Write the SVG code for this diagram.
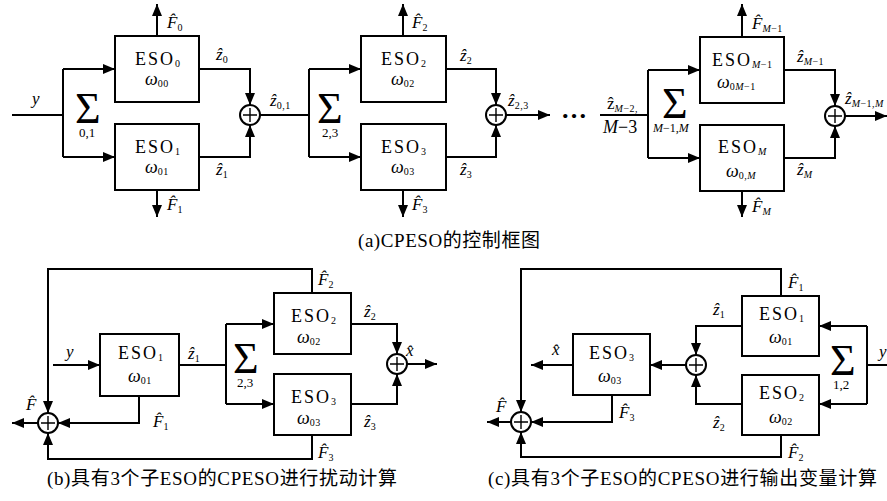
<svg xmlns="http://www.w3.org/2000/svg" width="887" height="501" viewBox="0 0 887 501">
<style>
.box{fill:#fff;stroke:#000;stroke-width:2}
.ln{fill:none;stroke:#000;stroke-width:2}
.sj{fill:#fff;stroke:#000;stroke-width:2}
.pl{fill:none;stroke:#000;stroke-width:1.4}
.t{font-family:"Liberation Serif","Times New Roman",serif;fill:#000}
.v{font-style:italic;font-size:17px}
.n{font-style:normal}
.s{font-size:10px;letter-spacing:0.5px}
.eso{font-size:18px;letter-spacing:2px}
.om{font-size:18px}
.sig{font-size:44px}
.sl{font-size:13px}
.cap{font-family:"Liberation Serif","Noto Sans CJK SC",sans-serif;font-size:19px;fill:#000}
</style>
<defs>
<marker id="a" viewBox="0 0 12 10" refX="12" refY="5" markerWidth="12" markerHeight="10" markerUnits="userSpaceOnUse" orient="auto"><path d="M0,0 L12,5 L0,10 z" fill="#000"/></marker>
</defs>

<g id="connectors">
<path class="ln" d="M12,115 H63 M63,69 V157"/>
<path class="ln" d="M63,69 H115" marker-end="url(#a)"/>
<path class="ln" d="M63,157 H115" marker-end="url(#a)"/>
<path class="ln" d="M199,69 H250 V105" marker-end="url(#a)"/>
<path class="ln" d="M199,157 H250 V125" marker-end="url(#a)"/>
<path class="ln" d="M157,36 V4" marker-end="url(#a)"/>
<path class="ln" d="M157,190 V217" marker-end="url(#a)"/>
<path class="ln" d="M260,115 H309 M309,69 V157"/>
<path class="ln" d="M309,69 H361" marker-end="url(#a)"/>
<path class="ln" d="M309,157 H361" marker-end="url(#a)"/>
<path class="ln" d="M446,69 H496 V105" marker-end="url(#a)"/>
<path class="ln" d="M446,157 H496 V125" marker-end="url(#a)"/>
<path class="ln" d="M403,36 V4" marker-end="url(#a)"/>
<path class="ln" d="M403,190 V217" marker-end="url(#a)"/>
<path class="ln" d="M506,115 H550" marker-end="url(#a)"/>
<path class="ln" d="M600,115 H648 M648,70 V158"/>
<path class="ln" d="M648,70 H700" marker-end="url(#a)"/>
<path class="ln" d="M648,158 H700" marker-end="url(#a)"/>
<path class="ln" d="M784,70 H835 V106" marker-end="url(#a)"/>
<path class="ln" d="M784,158 H835 V126" marker-end="url(#a)"/>
<path class="ln" d="M742,37 V4" marker-end="url(#a)"/>
<path class="ln" d="M742,191 V217" marker-end="url(#a)"/>
<path class="ln" d="M845,116 H887" marker-end="url(#a)"/>

<path class="ln" d="M53,365 H100" marker-end="url(#a)"/>
<path class="ln" d="M179,365 H226 M226,324 V404"/>
<path class="ln" d="M226,324 H274" marker-end="url(#a)"/>
<path class="ln" d="M226,404 H274" marker-end="url(#a)"/>
<path class="ln" d="M351,324 H397 V354" marker-end="url(#a)"/>
<path class="ln" d="M351,404 H397 V374" marker-end="url(#a)"/>
<path class="ln" d="M407,364 H437" marker-end="url(#a)"/>
<path class="ln" d="M312,293 V269 H48 V413" marker-end="url(#a)"/>
<path class="ln" d="M312,435 V459 H48 V433" marker-end="url(#a)"/>
<path class="ln" d="M139,396 V423 H58" marker-end="url(#a)"/>
<path class="ln" d="M38,423 H12" marker-end="url(#a)"/>

<path class="ln" d="M887,365 H867 M867,326 V404"/>
<path class="ln" d="M867,326 H819" marker-end="url(#a)"/>
<path class="ln" d="M867,404 H819" marker-end="url(#a)"/>
<path class="ln" d="M742,326 H696 V355" marker-end="url(#a)"/>
<path class="ln" d="M742,404 H696 V375" marker-end="url(#a)"/>
<path class="ln" d="M686,365 H650" marker-end="url(#a)"/>
<path class="ln" d="M573,365 H531" marker-end="url(#a)"/>
<path class="ln" d="M612,395 V422 H531" marker-end="url(#a)"/>
<path class="ln" d="M781,296 V269 H521 V412" marker-end="url(#a)"/>
<path class="ln" d="M781,435 V457 H521 V432" marker-end="url(#a)"/>
<path class="ln" d="M511,422 H487" marker-end="url(#a)"/>
</g>

<g id="a-eso0"><rect class="box" x="115" y="36" width="84" height="66"/>
<text class="t eso" x="135" y="65">ESO<tspan class="s" dy="2">0</tspan></text>
<text class="t" x="145" y="85"><tspan class="v om">ω</tspan><tspan class="s" dy="2">00</tspan></text></g>
<g id="a-eso1"><rect class="box" x="115" y="124" width="84" height="66"/>
<text class="t eso" x="135" y="153">ESO<tspan class="s" dy="2">1</tspan></text>
<text class="t" x="145" y="173"><tspan class="v om">ω</tspan><tspan class="s" dy="2">01</tspan></text></g>
<g id="a-sig01"><text class="t sig" x="75" y="123">Σ<tspan class="sl" x="79" y="137">0,1</tspan></text></g>
<g id="a-sum0"><circle class="sj" cx="250" cy="115" r="10"/><path class="pl" d="M243,115 H257 M250,108 V122"/></g>

<g id="a-eso2"><rect class="box" x="361" y="36" width="85" height="66"/>
<text class="t eso" x="381" y="65">ESO<tspan class="s" dy="2">2</tspan></text>
<text class="t" x="391" y="85"><tspan class="v om">ω</tspan><tspan class="s" dy="2">02</tspan></text></g>
<g id="a-eso3"><rect class="box" x="361" y="124" width="85" height="66"/>
<text class="t eso" x="381" y="153">ESO<tspan class="s" dy="2">3</tspan></text>
<text class="t" x="391" y="173"><tspan class="v om">ω</tspan><tspan class="s" dy="2">03</tspan></text></g>
<g id="a-sig23"><text class="t sig" x="317" y="123">Σ<tspan class="sl" x="322" y="137">2,3</tspan></text></g>
<g id="a-sum1"><circle class="sj" cx="496" cy="115" r="10"/><path class="pl" d="M489,115 H503 M496,108 V122"/></g>

<g id="a-dots"><text class="t" x="561" y="118" font-size="26" font-weight="bold">…</text></g>

<g id="a-esoM1"><rect class="box" x="700" y="37" width="84" height="66"/>
<text class="t eso" x="712" y="66">ESO<tspan class="s" dy="2"><tspan font-style="italic">M</tspan>−1</tspan></text>
<text class="t" x="717" y="88"><tspan class="v om">ω</tspan><tspan class="s" dy="2">0<tspan font-style="italic">M</tspan>−1</tspan></text></g>
<g id="a-esoM"><rect class="box" x="700" y="125" width="84" height="66"/>
<text class="t eso" x="718" y="153">ESO<tspan class="s" dy="2" font-style="italic">M</tspan></text>
<text class="t" x="726" y="177"><tspan class="v om">ω</tspan><tspan class="s" dy="2">0,<tspan font-style="italic">M</tspan></tspan></text></g>
<g id="a-sigM"><text class="t sig" x="662" y="118">Σ<tspan x="653" y="132" font-size="12"><tspan font-style="italic">M</tspan>−1,<tspan font-style="italic">M</tspan></tspan></text></g>
<g id="a-sumM"><circle class="sj" cx="835" cy="116" r="10"/><path class="pl" d="M828,116 H842 M835,109 V123"/></g>

<g id="a-labels">
<text class="t v" x="32" y="104">y</text>
<text class="t v" x="216" y="60">z&#x302;<tspan class="s n" dy="3">0</tspan></text>
<text class="t v" x="216" y="175">z&#x302;<tspan class="s n" dy="3">1</tspan></text>
<text class="t v" x="270" y="106">z&#x302;<tspan class="s n" dy="3">0,1</tspan></text>
<text class="t v" x="167" y="28">F&#x302;<tspan class="s n" dy="3">0</tspan></text>
<text class="t v" x="167" y="210">F&#x302;<tspan class="s n" dy="3">1</tspan></text>
<text class="t v" x="460" y="61">z&#x302;<tspan class="s n" dy="3">2</tspan></text>
<text class="t v" x="460" y="175">z&#x302;<tspan class="s n" dy="3">3</tspan></text>
<text class="t v" x="508" y="106">z&#x302;<tspan class="s n" dy="3">2,3</tspan></text>
<text class="t v" x="412" y="28">F&#x302;<tspan class="s n" dy="3">2</tspan></text>
<text class="t v" x="412" y="210">F&#x302;<tspan class="s n" dy="3">3</tspan></text>
<text class="t" x="607" y="109" font-size="17">z&#x302;<tspan class="s" dy="3"><tspan font-style="italic">M</tspan>−2,</tspan></text>
<text class="t" x="603" y="133" font-size="18"><tspan font-style="italic">M</tspan>−3</text>
<text class="t v" x="752" y="29">F&#x302;<tspan class="s" dy="3">M<tspan class="n">−1</tspan></tspan></text>
<text class="t v" x="752" y="212">F&#x302;<tspan class="s" dy="3">M</tspan></text>
<text class="t v" x="797" y="62">z&#x302;<tspan class="s" dy="3">M<tspan class="n">−1</tspan></tspan></text>
<text class="t v" x="797" y="175">z&#x302;<tspan class="s" dy="3">M</tspan></text>
<text class="t v" x="845" y="104">z&#x302;<tspan class="s" dy="3">M<tspan class="n">−1,</tspan>M</tspan></text>
<text class="cap" x="358" y="247" textLength="182" lengthAdjust="spacing">(a)CPESO的控制框图</text>
</g>

<g id="b-eso1"><rect class="box" x="100" y="334" width="79" height="62"/>
<text class="t eso" x="118" y="359">ESO<tspan class="s" dy="2">1</tspan></text>
<text class="t" x="128" y="382"><tspan class="v om">ω</tspan><tspan class="s" dy="2">01</tspan></text></g>
<g id="b-eso2"><rect class="box" x="274" y="293" width="77" height="61"/>
<text class="t eso" x="291" y="322">ESO<tspan class="s" dy="2">2</tspan></text>
<text class="t" x="297" y="343"><tspan class="v om">ω</tspan><tspan class="s" dy="2">02</tspan></text></g>
<g id="b-eso3"><rect class="box" x="274" y="374" width="77" height="61"/>
<text class="t eso" x="291" y="403">ESO<tspan class="s" dy="2">3</tspan></text>
<text class="t" x="297" y="424"><tspan class="v om">ω</tspan><tspan class="s" dy="2">03</tspan></text></g>
<g id="b-sig"><text class="t sig" x="233" y="373">Σ<tspan class="sl" x="237" y="387">2,3</tspan></text></g>
<g id="b-sumx"><circle class="sj" cx="397" cy="364" r="10"/><path class="pl" d="M390,364 H404 M397,357 V371"/></g>
<g id="b-sumF"><circle class="sj" cx="48" cy="423" r="10"/><path class="pl" d="M41,423 H55 M48,416 V430"/></g>
<g id="b-labels">
<text class="t v" x="66" y="357">y</text>
<text class="t v" x="188" y="359">z&#x302;<tspan class="s n" dy="3">1</tspan></text>
<text class="t v" x="364" y="317">z&#x302;<tspan class="s n" dy="3">2</tspan></text>
<text class="t v" x="364" y="427">z&#x302;<tspan class="s n" dy="3">3</tspan></text>
<text class="t v" x="406" y="356">x&#x302;</text>
<text class="t v" x="26" y="410">F&#x302;</text>
<text class="t v" x="153" y="427">F&#x302;<tspan class="s n" dy="3">1</tspan></text>
<text class="t v" x="318" y="285">F&#x302;<tspan class="s n" dy="3">2</tspan></text>
<text class="t v" x="318" y="458">F&#x302;<tspan class="s n" dy="3">3</tspan></text>
<text class="cap" x="47" y="485" textLength="350" lengthAdjust="spacing">(b)具有3个子ESO的CPESO进行扰动计算</text>
</g>

<g id="c-eso1"><rect class="box" x="742" y="296" width="77" height="60"/>
<text class="t eso" x="759" y="320">ESO<tspan class="s" dy="2">1</tspan></text>
<text class="t" x="769" y="343"><tspan class="v om">ω</tspan><tspan class="s" dy="2">01</tspan></text></g>
<g id="c-eso2"><rect class="box" x="742" y="375" width="77" height="60"/>
<text class="t eso" x="759" y="399">ESO<tspan class="s" dy="2">2</tspan></text>
<text class="t" x="769" y="423"><tspan class="v om">ω</tspan><tspan class="s" dy="2">02</tspan></text></g>
<g id="c-eso3"><rect class="box" x="573" y="334" width="77" height="61"/>
<text class="t eso" x="589" y="359">ESO<tspan class="s" dy="2">3</tspan></text>
<text class="t" x="598" y="382"><tspan class="v om">ω</tspan><tspan class="s" dy="2">03</tspan></text></g>
<g id="c-sig"><text class="t sig" x="830" y="375">Σ<tspan class="sl" x="833" y="389">1,2</tspan></text></g>
<g id="c-sumz"><circle class="sj" cx="696" cy="365" r="10"/><path class="pl" d="M689,365 H703 M696,358 V372"/></g>
<g id="c-sumF"><circle class="sj" cx="521" cy="422" r="10"/><path class="pl" d="M514,422 H528 M521,415 V429"/></g>
<g id="c-labels">
<text class="t v" x="879" y="357">y</text>
<text class="t v" x="713" y="315">z&#x302;<tspan class="s n" dy="3">1</tspan></text>
<text class="t v" x="713" y="428">z&#x302;<tspan class="s n" dy="3">2</tspan></text>
<text class="t v" x="552" y="355">x&#x302;</text>
<text class="t v" x="496" y="412">F&#x302;</text>
<text class="t v" x="619" y="418">F&#x302;<tspan class="s n" dy="3">3</tspan></text>
<text class="t v" x="788" y="288">F&#x302;<tspan class="s n" dy="3">1</tspan></text>
<text class="t v" x="788" y="458">F&#x302;<tspan class="s n" dy="3">2</tspan></text>
<text class="cap" x="488" y="485" textLength="389" lengthAdjust="spacing">(c)具有3个子ESO的CPESO进行输出变量计算</text>
</g>
</svg>
